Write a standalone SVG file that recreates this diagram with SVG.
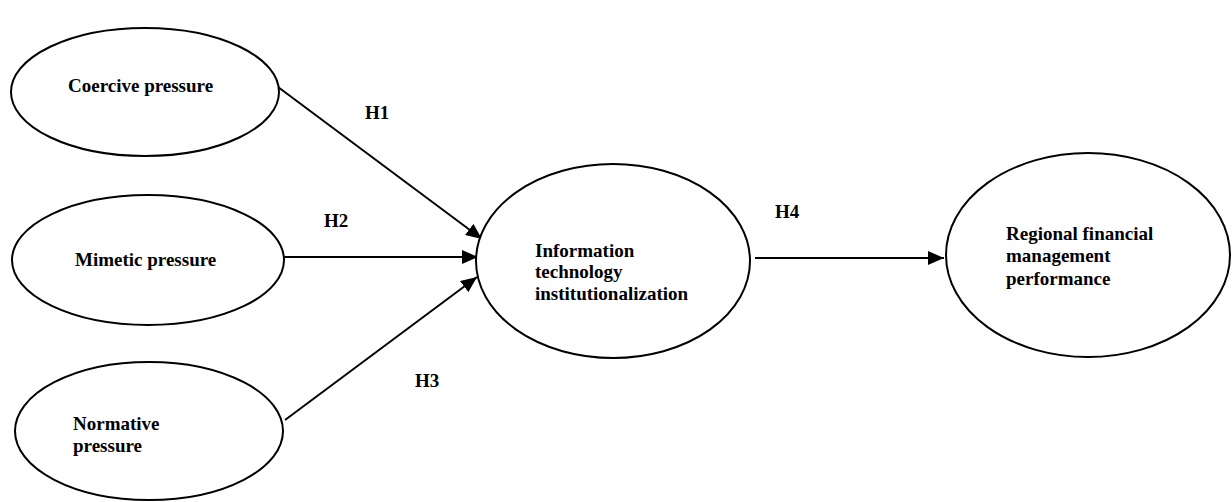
<svg xmlns="http://www.w3.org/2000/svg" width="1232" height="502" viewBox="0 0 1232 502">
<style>
.node{fill:#fff;stroke:#000;stroke-width:2}
.t{font-family:"Liberation Serif","Times New Roman",serif;font-weight:bold;font-size:19px;fill:#000}
.c{stroke:#000;stroke-width:2;fill:none;marker-end:url(#ah)}
</style>
<defs>
<marker id="ah" viewBox="0 0 10 10" refX="10" refY="5" markerWidth="8" markerHeight="7" markerUnits="strokeWidth" orient="auto" preserveAspectRatio="none">
<path d="M0,0 L10,5 L0,10 Z" fill="#000"/>
</marker>
</defs>
<g id="connectors">
<line class="c" x1="278" y1="87" x2="482" y2="239"/>
<line class="c" x1="283" y1="257" x2="478" y2="257"/>
<line class="c" x1="285" y1="420" x2="477" y2="277"/>
<line class="c" x1="755" y1="258" x2="944" y2="258"/>
<text class="t" x="365" y="119">H1</text>
<text class="t" x="324" y="227">H2</text>
<text class="t" x="415" y="387">H3</text>
<text class="t" x="775" y="218">H4</text>
</g>
<g id="coercive">
<ellipse class="node" cx="145" cy="92" rx="134" ry="64"/>
<text class="t" x="68" y="92">Coercive pressure</text>
</g>
<g id="mimetic">
<ellipse class="node" cx="148" cy="260" rx="136" ry="65"/>
<text class="t" x="75" y="266">Mimetic pressure</text>
</g>
<g id="normative">
<ellipse class="node" cx="149" cy="431" rx="134" ry="69"/>
<text class="t" x="73" y="430">Normative</text>
<text class="t" x="73" y="452">pressure</text>
</g>
<g id="it">
<ellipse class="node" cx="613" cy="261" rx="137" ry="97"/>
<text class="t" x="535" y="257">Information</text>
<text class="t" x="535" y="278">technology</text>
<text class="t" x="535" y="300">institutionalization</text>
</g>
<g id="regional">
<ellipse class="node" cx="1088" cy="255" rx="142" ry="102"/>
<text class="t" x="1006" y="240">Regional financial</text>
<text class="t" x="1006" y="262">management</text>
<text class="t" x="1006" y="285">performance</text>
</g>
</svg>
